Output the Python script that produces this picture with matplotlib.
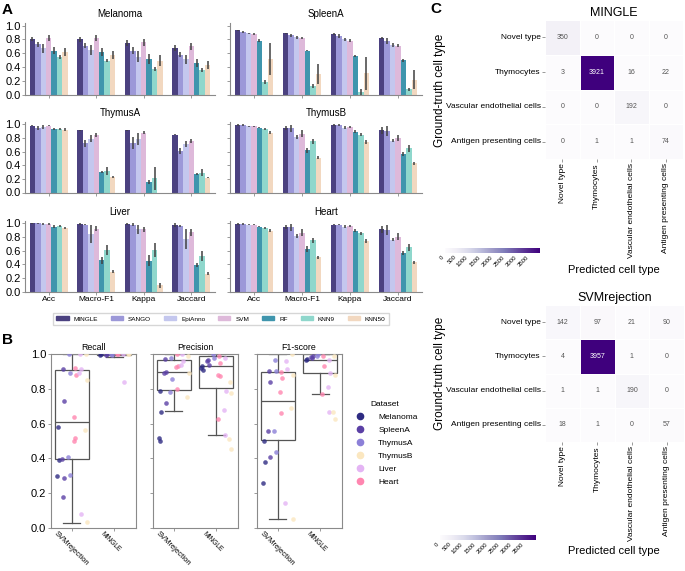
import numpy as np
import matplotlib
matplotlib.use('Agg')
import matplotlib.pyplot as plt
import seaborn as sns
from matplotlib.patches import Patch
from matplotlib.lines import Line2D

plt.rcParams['font.family'] = ['Liberation Sans', 'DejaVu Sans']

W, H = 685, 571


def box(x0, y0, x1, y1):
    # pixel box -> figure fraction
    return [x0 / W, 1 - y1 / H, (x1 - x0) / W, (y1 - y0) / H]


# ---------------- Panel A data ----------------
metrics = ['Acc', 'Macro-F1', 'Kappa', 'Jaccard']
methods = ['MINGLE', 'SANGO', 'EpiAnno', 'SVM', 'RF', 'KNN9', 'KNN50']
method_colors = ['#4b4180', '#9c98d8', '#c4c7ee', '#deb9da', '#3f95ad', '#8fd7cc', '#f2d8c0']

# rows = metrics, columns = methods
melanoma_mean = [[0.81, 0.73, 0.67, 0.82, 0.64, 0.54, 0.62],
                 [0.80, 0.71, 0.65, 0.82, 0.62, 0.49, 0.57],
                 [0.75, 0.64, 0.55, 0.76, 0.52, 0.37, 0.49],
                 [0.68, 0.58, 0.51, 0.70, 0.46, 0.36, 0.43]]
melanoma_err = [[0.03, 0.04, 0.06, 0.04, 0.05, 0.03, 0.06],
                [0.03, 0.04, 0.07, 0.04, 0.06, 0.02, 0.06],
                [0.04, 0.05, 0.08, 0.05, 0.07, 0.03, 0.08],
                [0.04, 0.04, 0.06, 0.05, 0.06, 0.03, 0.06]]

spleen_mean = [[0.93, 0.91, 0.89, 0.88, 0.78, 0.18, 0.52],
               [0.89, 0.86, 0.83, 0.82, 0.64, 0.13, 0.30],
               [0.88, 0.85, 0.80, 0.78, 0.56, 0.04, 0.31],
               [0.82, 0.78, 0.72, 0.71, 0.50, 0.08, 0.22]]
spleen_err = [[0.01, 0.01, 0.01, 0.01, 0.02, 0.03, 0.23],
              [0.01, 0.02, 0.02, 0.01, 0.01, 0.03, 0.15],
              [0.01, 0.03, 0.02, 0.02, 0.02, 0.04, 0.24],
              [0.02, 0.04, 0.03, 0.02, 0.02, 0.02, 0.14]]

thymusa_mean = [[0.98, 0.95, 0.96, 0.98, 0.93, 0.93, 0.92],
                [0.91, 0.72, 0.79, 0.84, 0.30, 0.32, 0.23],
                [0.91, 0.73, 0.78, 0.88, 0.16, 0.21, 0.0],
                [0.85, 0.61, 0.71, 0.76, 0.27, 0.29, 0.22]]
thymusa_err = [[0.01, 0.03, 0.03, 0.01, 0.02, 0.02, 0.02],
               [0.01, 0.05, 0.05, 0.03, 0.02, 0.06, 0.01],
               [0.01, 0.09, 0.09, 0.02, 0.03, 0.17, 0.0],
               [0.01, 0.05, 0.04, 0.03, 0.02, 0.05, 0.01]]

thymusb_mean = [[0.99, 0.99, 0.97, 0.97, 0.95, 0.93, 0.88],
                [0.95, 0.94, 0.81, 0.86, 0.62, 0.75, 0.51],
                [0.99, 0.99, 0.95, 0.96, 0.89, 0.85, 0.74],
                [0.91, 0.90, 0.76, 0.80, 0.56, 0.65, 0.43]]
thymusb_err = [[0.01, 0.01, 0.01, 0.01, 0.01, 0.01, 0.02],
               [0.03, 0.05, 0.03, 0.05, 0.04, 0.04, 0.02],
               [0.01, 0.01, 0.02, 0.01, 0.02, 0.02, 0.03],
               [0.05, 0.07, 0.02, 0.05, 0.03, 0.05, 0.02]]

liver_mean = [[1.0, 1.0, 0.99, 0.99, 0.95, 0.96, 0.93],
              [0.99, 0.98, 0.84, 0.92, 0.46, 0.61, 0.29],
              [0.99, 0.98, 0.91, 0.91, 0.45, 0.61, 0.09],
              [0.98, 0.96, 0.77, 0.87, 0.39, 0.52, 0.26]]
liver_err = [[0.01, 0.01, 0.01, 0.01, 0.02, 0.02, 0.02],
             [0.02, 0.01, 0.13, 0.04, 0.05, 0.07, 0.02],
             [0.01, 0.02, 0.07, 0.04, 0.08, 0.10, 0.04],
             [0.03, 0.02, 0.14, 0.05, 0.03, 0.07, 0.02]]

heart_mean = [[0.99, 0.99, 0.98, 0.98, 0.95, 0.93, 0.89],
              [0.95, 0.94, 0.81, 0.86, 0.62, 0.75, 0.50],
              [0.98, 0.98, 0.95, 0.96, 0.89, 0.85, 0.74],
              [0.91, 0.90, 0.76, 0.80, 0.57, 0.65, 0.43]]
heart_err = thymusb_err

# ---------------- Panel B data ----------------
datasets = ['Melanoma', 'SpleenA', 'ThymusA', 'ThymusB', 'Liver', 'Heart']
dataset_colors = ['#2e2b82', '#5b40a5', '#8c80d8', '#fbe7c0', '#e4b4f4', '#ff86b0']
dodge_order = ['Melanoma', 'SpleenA', 'ThymusA', 'Heart', 'Liver', 'ThymusB']
tools = ['SVMrejection', 'MINGLE']

# box stats: whislo, q1, median, q3, whishi
recall_box = [(0.025, 0.395, 0.61, 0.91, 1.0), (0.985, 0.995, 1.0, 1.0, 1.0)]
precision_box = [(0.675, 0.795, 0.90, 0.965, 1.0), (0.535, 0.805, 0.935, 0.99, 1.0)]
f1_box = [(0.05, 0.505, 0.73, 0.90, 1.0), (0.77, 0.895, 0.965, 1.0, 1.0)]

recall_svm = {'Melanoma': [0.58, 0.39, 0.30], 'SpleenA': [0.915, 0.73, 0.395, 0.285, 0.175],
              'ThymusA': [1.0, 0.89, 0.405, 0.305], 'Heart': [0.92, 0.88, 0.64, 0.515, 0.50],
              'Liver': [1.0, 0.915, 0.895, 0.08], 'ThymusB': [1.0, 0.85, 0.565, 0.03]}
recall_mingle = {'Melanoma': [0.995, 1.0], 'SpleenA': [0.995, 1.0], 'ThymusA': [1.0, 0.995],
                 'Heart': [1.0, 1.0], 'Liver': [1.0, 0.84], 'ThymusB': [1.0, 1.0]}
precision_svm = {'Melanoma': [0.79, 0.67, 0.515, 0.50], 'SpleenA': [0.975, 0.90, 0.89, 0.72],
                 'ThymusA': [0.98, 0.86, 0.785], 'Heart': [1.0, 0.935, 0.925, 0.80],
                 'Liver': [1.0, 0.96, 0.94], 'ThymusB': [0.99, 0.89, 0.755]}
precision_mingle = {'Melanoma': [0.93, 0.91, 0.92], 'SpleenA': [0.97, 0.94, 0.96],
                    'ThymusA': [1.0, 0.98], 'Heart': [0.99, 0.95, 0.88, 0.875, 0.625],
                    'Liver': [0.98, 0.79, 0.68, 0.535], 'ThymusB': [0.84, 0.775, 0.51, 0.455]}
f1_svm = {'Melanoma': [0.50, 0.38, 0.26], 'SpleenA': [0.905, 0.84, 0.555, 0.41],
          'ThymusA': [0.97, 0.905, 0.555, 0.435], 'Heart': [0.90, 0.865, 0.78, 0.66],
          'Liver': [0.96, 0.915, 0.14], 'ThymusB': [1.0, 0.88, 0.69, 0.05]}
f1_mingle = {'Melanoma': [0.965, 0.975], 'SpleenA': [0.98, 0.99, 0.985], 'ThymusA': [0.99, 1.0],
             'Heart': [0.99, 0.935, 0.77], 'Liver': [0.97, 0.89, 0.81, 0.67],
             'ThymusB': [0.99, 0.88, 0.67, 0.625]}

# ---------------- Panel C data ----------------
cell_types = ['Novel type', 'Thymocytes', 'Vascular endothelial cells', 'Antigen presenting cells']
cm_mingle = [[350, 0, 0, 0],
             [3, 3921, 16, 22],
             [0, 0, 192, 0],
             [0, 1, 1, 74]]
cm_svm = [[142, 97, 21, 90],
          [4, 3957, 1, 0],
          [1, 1, 190, 0],
          [18, 1, 0, 57]]

# ---------------- figure ----------------
fig = plt.figure(figsize=(W / 100, H / 100), dpi=100)
grey = '#8a8a8a'

panelA = [('Melanoma', melanoma_mean, melanoma_err), ('SpleenA', spleen_mean, spleen_err),
          ('ThymusA', thymusa_mean, thymusa_err), ('ThymusB', thymusb_mean, thymusb_err),
          ('Liver', liver_mean, liver_err), ('Heart', heart_mean, heart_err)]
col_x = [(25, 215), (230, 422)]
row_y = [(22.9, 94.7), (121.6, 192.5), (220.5, 291.6)]
bw = 0.8 / len(methods)
for k, (name, mean, err) in enumerate(panelA):
    r, c = divmod(k, 2)
    ax = fig.add_axes(box(col_x[c][0], row_y[r][0], col_x[c][1], row_y[r][1]))
    mean = np.array(mean)
    err = np.array(err)
    x = np.arange(len(metrics))
    for j in range(len(methods)):
        ax.bar(x + (j - 3) * bw, mean[:, j], bw, color=method_colors[j], yerr=err[:, j],
               error_kw=dict(ecolor='#404040', elinewidth=1.1, capsize=0))
    ax.set_xlim(-0.5, 3.5)
    ax.set_ylim(0, 1.04)
    ax.set_yticks([0, 0.2, 0.4, 0.6, 0.8, 1.0])
    ax.set_xticks(x)
    ax.set_title(name, fontsize=7, pad=4)
    for s in ['top', 'right']:
        ax.spines[s].set_visible(False)
    for s in ['left', 'bottom']:
        ax.spines[s].set_color(grey)
        ax.spines[s].set_linewidth(0.8)
    ax.tick_params(length=2, width=0.6, color=grey, labelsize=8, pad=1)
    if c == 1:
        ax.set_yticklabels([])
    if r == 2:
        ax.set_xticklabels(metrics, fontsize=6)
    else:
        ax.set_xticklabels([])

handles = [Patch(color=col, label=m) for m, col in zip(methods, method_colors)]
fig.legend(handles=handles, ncol=7, loc='center', bbox_to_anchor=(221 / W, 1 - 319 / H),
           fontsize=4.6, frameon=True, handlelength=1.9, handleheight=0.6, columnspacing=2.0,
           handletextpad=0.8, borderpad=0.6, edgecolor='#cccccc', fancybox=False)

# ---------------- Panel B ----------------
panelB = [('Recall', recall_box, [recall_svm, recall_mingle], (50.5, 135.5)),
          ('Precision', precision_box, [precision_svm, precision_mingle], (152.5, 237.5)),
          ('F1-score', f1_box, [f1_svm, f1_mingle], (256.5, 341.5))]
dodge = (np.arange(len(dodge_order)) - 2.5) * 0.8 / len(dodge_order)
jit = [0.0, 0.025, -0.025, 0.015, -0.015]
for k, (title, bstats, pts, (x0, x1)) in enumerate(panelB):
    ax = fig.add_axes(box(x0, 354.3, x1, 527.7))
    stats = []
    for lo, q1, med, q3, hi in bstats:
        stats.append(dict(whislo=lo, q1=q1, med=med, q3=q3, whishi=hi, fliers=[]))
    ax.bxp(stats, positions=[0, 1], widths=0.8, showfliers=False, patch_artist=True,
           boxprops=dict(facecolor='none', edgecolor='#555555', linewidth=0.9),
           medianprops=dict(color='#555555', linewidth=0.9),
           whiskerprops=dict(color='#555555', linewidth=0.9),
           capprops=dict(color='#555555', linewidth=0.9), capwidths=0.4)
    for p, groups in enumerate(pts):
        for d, ds in enumerate(dodge_order):
            vals = groups[ds]
            xs = [p + dodge[d] + jit[i % len(jit)] for i in range(len(vals))]
            ax.scatter(xs, vals, s=11, color=dataset_colors[datasets.index(ds)],
                       alpha=0.8, linewidths=0, zorder=3)
    ax.set_xlim(-0.5, 1.5)
    ax.set_ylim(0, 1.0)
    ax.set_yticks([0, 0.2, 0.4, 0.6, 0.8, 1.0])
    ax.set_xticks([0, 1])
    ax.set_xticklabels([])
    ax.text(-0.33, -0.015, tools[0], rotation=-45, ha='left', va='top', fontsize=5.5,
            rotation_mode='anchor', transform=ax.get_xaxis_transform())
    ax.text(0.75, -0.015, tools[1], rotation=-45, ha='left', va='top', fontsize=4.8,
            rotation_mode='anchor', transform=ax.get_xaxis_transform())
    ax.set_title(title, fontsize=6.3, pad=3)
    for s in ax.spines.values():
        s.set_color(grey)
        s.set_linewidth(0.8)
    ax.tick_params(length=2, width=0.6, color=grey, labelsize=8, pad=1)
    if k > 0:
        ax.set_yticklabels([])

leg_handles = [Line2D([], [], marker='o', linestyle='', markersize=4.5, color=col, label=ds)
               for ds, col in zip(datasets, dataset_colors)]
fig.legend(handles=leg_handles, title='Dataset', loc='upper left',
           bbox_to_anchor=(344 / W, 1 - 394 / H), fontsize=6, title_fontsize=6,
           frameon=False, handletextpad=1.2, labelspacing=0.6)

# ---------------- Panel C ----------------
heat = [('MINGLE', cm_mingle, (545, 20, 683, 159), (445, 248, 540, 253), 270, 90),
        ('SVMrejection', cm_svm, (545, 305, 684, 442), (440, 535, 536, 540), 551, 373)]
for title, cm, hb, cb, xl_y, yl_y in heat:
    ax = fig.add_axes(box(*hb))
    cax = fig.add_axes(box(*cb))
    sns.heatmap(np.array(cm), ax=ax, cbar_ax=cax, cmap='Purples', annot=True, fmt='d',
                annot_kws={'size': 5}, linewidths=0.6, linecolor='white',
                cbar_kws={'orientation': 'horizontal', 'ticks': np.arange(0, 4000, 500)},
                xticklabels=cell_types, yticklabels=cell_types)
    for t in ax.texts:
        if np.mean(matplotlib.colors.to_rgb(t.get_color())) < 0.5:
            t.set_color('#555555')
    ax.set_title(title, fontsize=9, pad=3)
    ax.tick_params(length=2, width=0.6, color=grey, labelsize=6, pad=1)
    ax.set_xticklabels(cell_types, rotation=90, fontsize=6)
    ax.set_yticklabels(cell_types, rotation=0, fontsize=6)
    cax.tick_params(length=0, labelsize=4.3, pad=1)
    for lab in cax.get_xticklabels():
        lab.set_rotation(45)
        lab.set_ha('right')
    cbar = ax.collections[0].colorbar
    if cbar is not None:
        cbar.outline.set_visible(False)
    fig.text(614 / W, 1 - xl_y / H, 'Predicted cell type', ha='center', va='center', fontsize=8)
    fig.text(440 / W, 1 - yl_y / H, 'Ground-truth cell type', ha='center', va='center',
             fontsize=8.5, rotation=90)

# panel letters
fig.text(2 / W, 1 - 10 / H, 'A', fontsize=11, fontweight='bold', va='center')
fig.text(2 / W, 1 - 340 / H, 'B', fontsize=11, fontweight='bold', va='center')
fig.text(430 / W, 1 - 9 / H, 'C', fontsize=11, fontweight='bold', va='center')

fig.savefig('out.png', dpi=100)
